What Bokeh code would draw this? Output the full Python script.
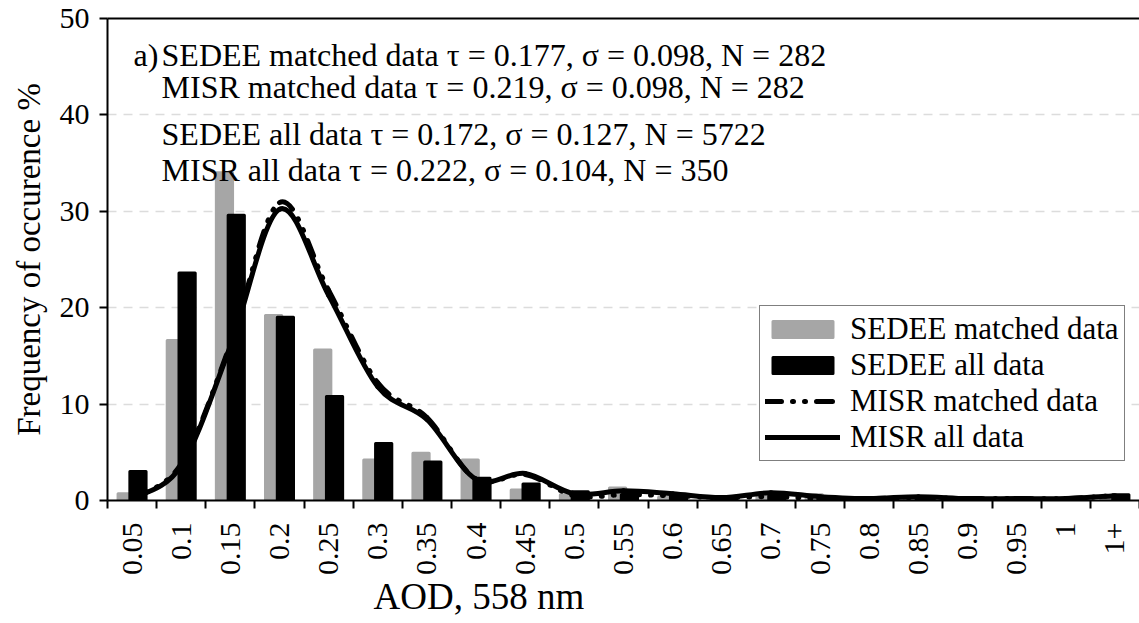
import math
from bokeh.plotting import figure
from bokeh.models import (Range1d, FixedTicker, Label, Legend, LegendItem,
                          ColumnDataSource, LinearAxis, Title)
from bokeh.transform import dodge
from bokeh.embed import file_html
from bokeh.resources import INLINE

# ---------------- data ----------------
categories = ["0.05", "0.1", "0.15", "0.2", "0.25", "0.3", "0.35", "0.4", "0.45", "0.5",
              "0.55", "0.6", "0.65", "0.7", "0.75", "0.8", "0.85", "0.9", "0.95", "1", "1+"]
sedee_matched = [0.7, 16.6, 34.0, 19.2, 15.6, 4.2, 4.9, 4.2, 1.1, 0.6,
                 1.3, 0.35, 0.3, 0.4, 0.6, 0.2, 0.2, 0.1, 0.1, 0.1, 0.2]
sedee_all = [3.0, 23.6, 29.6, 19.0, 10.8, 5.9, 4.0, 2.3, 1.7, 0.9,
             0.6, 0.5, 0.4, 0.5, 0.3, 0.2, 0.35, 0.3, 0.25, 0.2, 0.6]
misr_matched = [0.2, 3.8, 16.2, 30.9, 21.8, 12.2, 8.6, 2.2, 2.7, 0.5,
                0.6, 0.5, 0.3, 0.4, 0.2, 0.2, 0.3, 0.2, 0.2, 0.2, 0.5]
misr_all = [0.2, 3.6, 16.0, 30.2, 21.3, 11.8, 8.4, 2.2, 2.8, 0.7,
            1.0, 0.7, 0.3, 0.8, 0.4, 0.2, 0.4, 0.2, 0.2, 0.2, 0.5]
series_names = ["SEDEE matched data", "SEDEE all data", "MISR matched data", "MISR all data"]
stats_lines = ["SEDEE matched data \u03c4 = 0.177, \u03c3 = 0.098, N = 282",
               "MISR matched data \u03c4 = 0.219, \u03c3 = 0.098, N = 282",
               "SEDEE all data \u03c4 = 0.172, \u03c3 = 0.127, N = 5722",
               "MISR all data \u03c4 = 0.222, \u03c3 = 0.104, N = 350"]
stats_y = [46.2, 42.9, 38.0, 34.3]
y_ticks = [0, 10, 20, 30, 40, 50]

FONT = "Liberation Serif"
n = len(categories)
centers = [i + 0.5 for i in range(n)]

p = figure(width=1139, height=620, output_backend="svg", toolbar_location=None,
           x_range=Range1d(0, n), y_range=Range1d(0, 50),
           min_border_left=107, min_border_right=0, min_border_top=18, min_border_bottom=120)
p.outline_line_color = None
p.background_fill_color = "white"
p.border_fill_color = "white"

# axes
xa = p.xaxis[0]
xa.ticker = FixedTicker(ticks=centers, minor_ticks=list(range(n + 1)))
xa.major_label_overrides = {c: lab for c, lab in zip(centers, categories)}
xa.major_label_orientation = math.pi / 2
xa.major_tick_out = 0
xa.major_tick_in = 0
xa.minor_tick_out = 8
xa.minor_tick_in = 0
xa.minor_tick_line_width = 2
xa.minor_tick_line_color = "black"
xa.axis_line_width = 2
xa.major_label_text_font = FONT
xa.major_label_text_font_size = "30px"
xa.major_label_text_color = "black"
xa.major_label_standoff = 14

ya = p.yaxis[0]
ya.ticker = FixedTicker(ticks=y_ticks)
ya.major_tick_out = 8
ya.major_tick_in = 0
ya.major_tick_line_width = 2
ya.minor_tick_line_color = None
ya.axis_line_width = 2
ya.major_label_text_font = FONT
ya.major_label_text_font_size = "30px"
ya.major_label_text_color = "black"
ya.major_label_standoff = 10
ya.axis_label = "Frequency of occurence %"
ya.axis_label_text_font = FONT
ya.axis_label_text_font_size = "33px"
ya.axis_label_text_font_style = "normal"
ya.axis_label_text_color = "black"
ya.axis_label_standoff = 10

top = LinearAxis(ticker=FixedTicker(ticks=[]), axis_line_width=2,
                 major_tick_line_color=None, minor_tick_line_color=None,
                 major_label_text_font_size="0px")
p.add_layout(top, "above")

p.xgrid.grid_line_color = None
p.ygrid.ticker = FixedTicker(ticks=y_ticks[1:-1])
p.ygrid.grid_line_color = "#dcdcdc"
p.ygrid.grid_line_dash = "9 7"
p.ygrid.grid_line_width = 1.5

# bars
src = ColumnDataSource(dict(x=centers, sm=sedee_matched, sa=sedee_all))
r_sm = p.vbar(x=dodge("x", -0.12), top="sm", bottom=0, width=0.33, source=src,
              fill_color="#a6a6a6", line_color="#a6a6a6", line_width=3, line_join="round")
r_sa = p.vbar(x=dodge("x", 0.12), top="sa", bottom=0, width=0.33, source=src,
              fill_color="black", line_color="black", line_width=3, line_join="round")

# smooth curves drawn as cubic bezier segments between the data points
def bez(vals):
    d = dict(x0=[], y0=[], x1=[], y1=[], cx0=[], cy0=[], cx1=[], cy1=[])
    xs, ys = centers, vals
    for i in range(n - 1):
        a = i - 1 if i > 0 else i
        b = i + 2 if i + 2 < n else i + 1
        d["x0"].append(xs[i]); d["y0"].append(ys[i])
        d["x1"].append(xs[i + 1]); d["y1"].append(ys[i + 1])
        d["cx0"].append(xs[i] + (xs[i + 1] - xs[a]) / 6)
        d["cy0"].append(ys[i] + (ys[i + 1] - ys[a]) / 6)
        d["cx1"].append(xs[i + 1] - (xs[b] - xs[i]) / 6)
        d["cy1"].append(ys[i + 1] - (ys[b] - ys[i]) / 6)
    return ColumnDataSource(d)

dash_style = dict(line_color="black", line_width=5, line_dash="16 11 1 11 1 11", line_cap="round")
solid_style = dict(line_color="black", line_width=5, line_cap="round")
bz = dict(x0="x0", y0="y0", x1="x1", y1="y1", cx0="cx0", cy0="cy0", cx1="cx1", cy1="cy1")
r_mm = p.bezier(source=bez(misr_matched), **bz, **dash_style)
r_ma = p.bezier(source=bez(misr_all), **bz, **solid_style)

legend = Legend(items=[LegendItem(label=series_names[0], renderers=[r_sm]),
                       LegendItem(label=series_names[1], renderers=[r_sa]),
                       LegendItem(label=series_names[2], renderers=[r_mm]),
                       LegendItem(label=series_names[3], renderers=[r_ma])],
                location=(652, 39))
legend.label_text_font = FONT
legend.label_text_font_size = "31px"
legend.label_text_color = "black"
legend.glyph_width = 75
legend.glyph_height = 20
legend.label_standoff = 10
legend.spacing = -5
legend.padding = 5
legend.margin = 0
legend.border_line_color = "black"
legend.border_line_width = 1.5
legend.background_fill_color = "white"
legend.background_fill_alpha = 1
p.add_layout(legend, "center")

# stats annotation
p.add_layout(Label(x=0.53, y=stats_y[0], text="a)", text_font=FONT, text_font_size="32px",
                   text_baseline="middle", text_color="black"))
for t, yy in zip(stats_lines, stats_y):
    p.add_layout(Label(x=1.1, y=yy, text=t, text_font=FONT, text_font_size="32px",
                       text_baseline="middle", text_color="black"))

# x axis title (off-centre, as in the original)
p.add_layout(Title(text="AOD, 558 nm", align="left", offset=266, text_font=FONT,
                   text_font_size="37px", text_font_style="normal", text_color="black",
                   standoff=-10), "below")

open("out.html", "w").write(file_html(p, INLINE))
